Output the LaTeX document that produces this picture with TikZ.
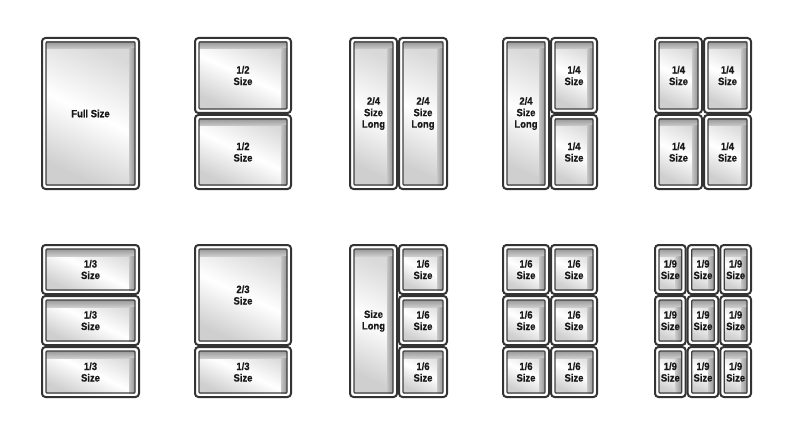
\documentclass[tikz,border=0pt]{standalone}
\usepackage{fontspec}
\setmainfont{Liberation Sans}[FakeStretch=0.9,FakeBold=0.6]
\tikzset{
 panouter/.style={draw=black!80, line width=2pt, rounded corners=3.5pt, fill=white},
 paninner/.style={draw=black!75, line width=1.3pt, rounded corners=1pt},
 panlabel/.style={font=\bfseries\fontsize{10.5}{11.5}\selectfont, text=black!90, align=center, inner sep=0pt},
}
\newcommand{\pan}[6]{%
 \draw[panouter] ({#2+1},{#3+1}) rectangle ({#4-1},{#5-1});
 \shade[top color=gray!30, bottom color=gray!38, middle color=white, shading angle=-25] ({#2+5},{#3+5}) rectangle ({#4-5},{#5-5});
 \shade[top color=gray!80, bottom color=gray!40] ({#2+5},{#3+5}) rectangle ({#4-5},{#3+12});
 \shade[left color=gray!45, right color=gray!85] ({#4-11},{#3+12}) rectangle ({#4-5},{#5-5});
 \draw[paninner] ({#2+5},{#3+5}) rectangle ({#4-5},{#5-5});
 \node[panlabel] (#1) at ({(#2+#4)/2},{(#3+#5)/2}) {#6};
}
\begin{document}
\begin{tikzpicture}[x=1pt,y=-1pt]
\useasboundingbox[fill=white] (0,0) rectangle (800,433);
% Row 1
\pan{a1}{41}{37}{140}{190}{Full Size}
\pan{b1}{194}{37}{292}{114}{1/2\\Size}
\pan{b2}{194}{114}{292}{190}{1/2\\Size}
\pan{c1}{349}{37}{398}{190}{2/4\\Size\\Long}
\pan{c2}{398}{37}{448}{190}{2/4\\Size\\Long}
\pan{d1}{502}{37}{550}{190}{2/4\\Size\\Long}
\pan{d2}{550}{37}{598}{114}{1/4\\Size}
\pan{d3}{550}{114}{598}{190}{1/4\\Size}
\pan{e1}{654}{37}{703}{114}{1/4\\Size}
\pan{e2}{703}{37}{752}{114}{1/4\\Size}
\pan{e3}{654}{114}{703}{190}{1/4\\Size}
\pan{e4}{703}{114}{752}{190}{1/4\\Size}
% Row 2
\pan{f1}{41}{244}{140}{295}{1/3\\Size}
\pan{f2}{41}{295}{140}{346}{1/3\\Size}
\pan{f3}{41}{346}{140}{398}{1/3\\Size}
\pan{g1}{194}{244}{292}{346}{2/3\\Size}
\pan{g2}{194}{346}{292}{398}{1/3\\Size}
\pan{h1}{349}{244}{398}{398}{Size\\Long}
\pan{h2}{398}{244}{448}{295}{1/6\\Size}
\pan{h3}{398}{295}{448}{346}{1/6\\Size}
\pan{h4}{398}{346}{448}{398}{1/6\\Size}
\pan{i1}{502}{244}{550}{295}{1/6\\Size}
\pan{i2}{550}{244}{598}{295}{1/6\\Size}
\pan{i3}{502}{295}{550}{346}{1/6\\Size}
\pan{i4}{550}{295}{598}{346}{1/6\\Size}
\pan{i5}{502}{346}{550}{398}{1/6\\Size}
\pan{i6}{550}{346}{598}{398}{1/6\\Size}
\pan{j1}{654}{244}{686.7}{295}{1/9\\Size}
\pan{j2}{686.7}{244}{719.3}{295}{1/9\\Size}
\pan{j3}{719.3}{244}{752}{295}{1/9\\Size}
\pan{j4}{654}{295}{686.7}{346}{1/9\\Size}
\pan{j5}{686.7}{295}{719.3}{346}{1/9\\Size}
\pan{j6}{719.3}{295}{752}{346}{1/9\\Size}
\pan{j7}{654}{346}{686.7}{398}{1/9\\Size}
\pan{j8}{686.7}{346}{719.3}{398}{1/9\\Size}
\pan{j9}{719.3}{346}{752}{398}{1/9\\Size}
\end{tikzpicture}
\end{document}
